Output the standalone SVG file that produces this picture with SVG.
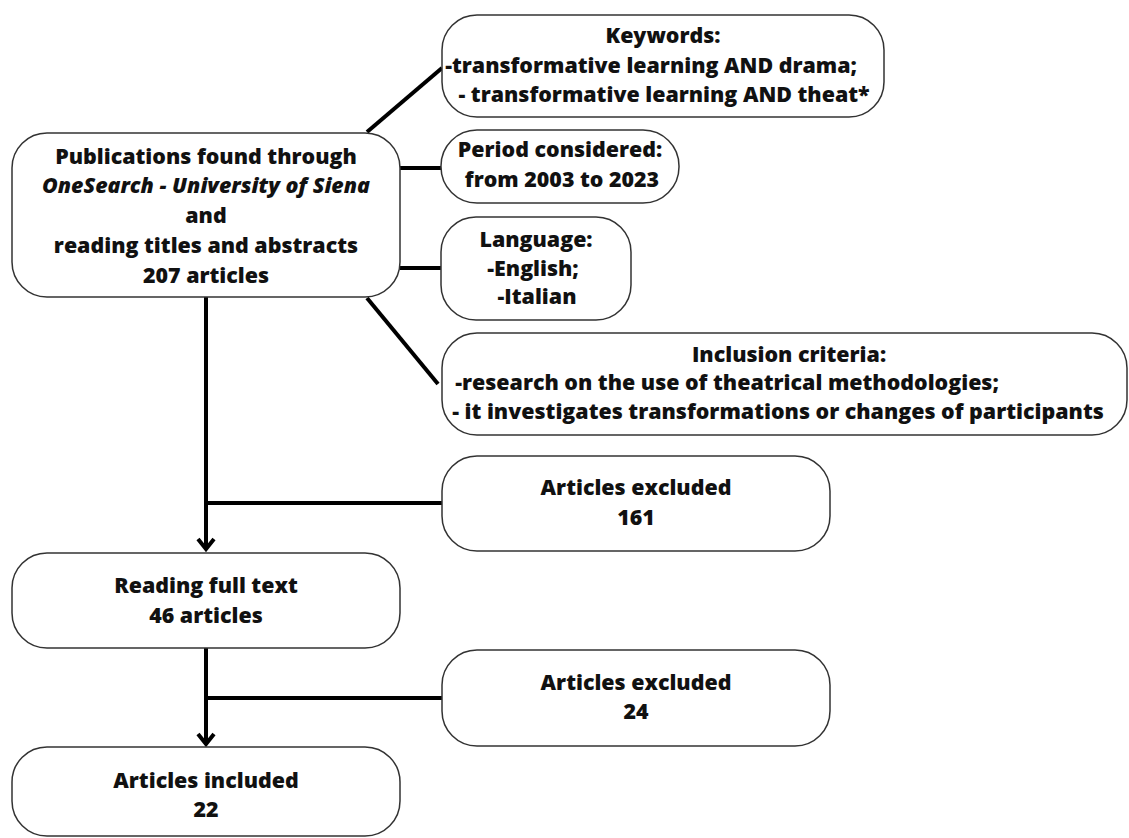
<svg xmlns="http://www.w3.org/2000/svg" width="1129" height="838" viewBox="0 0 1129 838">
  <style>
    .box { fill: #ffffff; stroke: #333333; stroke-width: 1.5; }
    .lbl { font-family: "Open Sans", "Liberation Sans", sans-serif; font-weight: 800; font-size: 21.4px; fill: #111111; text-anchor: middle; }
    .it { font-style: italic; }
    .link { fill: none; stroke: #000000; stroke-width: 4; }
  </style>
  <rect width="1129" height="838" fill="#ffffff"/>

  <g id="connectors">
    <line class="link" x1="367" y1="132" x2="442" y2="68"/>
    <line class="link" x1="400" y1="168" x2="442" y2="168"/>
    <line class="link" x1="400" y1="268" x2="442" y2="268"/>
    <line class="link" x1="367" y1="298" x2="438" y2="384"/>
    <line class="link" x1="206" y1="297" x2="206" y2="548"/>
    <polyline class="link" points="198,539 206,549 214,539"/>
    <line class="link" x1="206" y1="503" x2="442" y2="503"/>
    <line class="link" x1="206" y1="648" x2="206" y2="743"/>
    <polyline class="link" points="198,734 206,744 214,734"/>
    <line class="link" x1="206" y1="698" x2="442" y2="698"/>
  </g>

  <g id="publications">
    <rect class="box" x="12" y="133" width="388" height="164" rx="35"/>
    <text class="lbl" x="206" y="164">Publications found through</text>
    <text class="lbl it" x="206" y="193">OneSearch - University of Siena</text>
    <text class="lbl" x="206" y="223">and</text>
    <text class="lbl" x="206" y="253">reading titles and abstracts</text>
    <text class="lbl" x="206" y="283">207 articles</text>
  </g>

  <g id="keywords">
    <rect class="box" x="442" y="15" width="442" height="102" rx="35"/>
    <text class="lbl" x="663" y="43">Keywords:</text>
    <text class="lbl" x="651" y="73">-transformative learning AND drama;</text>
    <text class="lbl" x="664" y="102">- transformative learning AND theat*</text>
  </g>

  <g id="period">
    <rect class="box" x="441" y="130" width="238" height="73" rx="36"/>
    <text class="lbl" x="560" y="157">Period considered:</text>
    <text class="lbl" x="562" y="187">from 2003 to 2023</text>
  </g>

  <g id="language">
    <rect class="box" x="441" y="217" width="190" height="103" rx="35"/>
    <text class="lbl" x="536" y="247">Language:</text>
    <text class="lbl" x="533" y="276">-English;</text>
    <text class="lbl" x="537" y="304">-Italian</text>
  </g>

  <g id="inclusion">
    <rect class="box" x="442" y="333" width="685" height="102" rx="35"/>
    <text class="lbl" x="789" y="362">Inclusion criteria:</text>
    <text class="lbl" x="727" y="390">-research on the use of theatrical methodologies;</text>
    <text class="lbl" x="778" y="419">- it investigates transformations or changes of participants</text>
  </g>

  <g id="excluded-161">
    <rect class="box" x="442" y="456" width="388" height="95" rx="35"/>
    <text class="lbl" x="636" y="495">Articles excluded</text>
    <text class="lbl" x="636" y="525">161</text>
  </g>

  <g id="full-text">
    <rect class="box" x="12" y="553" width="388" height="95" rx="35"/>
    <text class="lbl" x="206" y="593">Reading full text</text>
    <text class="lbl" x="206" y="623">46 articles</text>
  </g>

  <g id="excluded-24">
    <rect class="box" x="442" y="650" width="388" height="96" rx="35"/>
    <text class="lbl" x="636" y="690">Articles excluded</text>
    <text class="lbl" x="636" y="719">24</text>
  </g>

  <g id="included">
    <rect class="box" x="12" y="747" width="388" height="89" rx="35"/>
    <text class="lbl" x="206" y="788">Articles included</text>
    <text class="lbl" x="206" y="817">22</text>
  </g>
</svg>
